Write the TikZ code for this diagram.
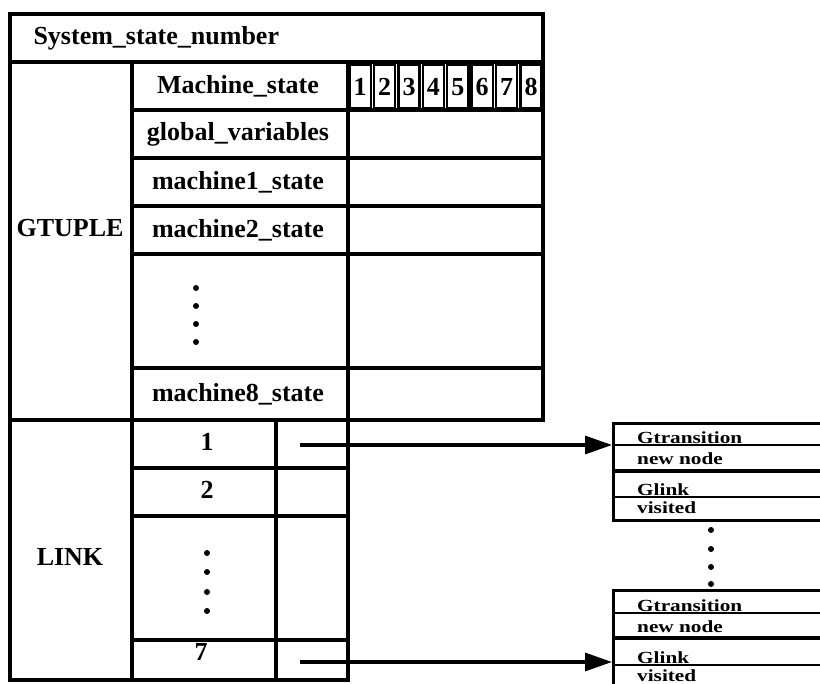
\documentclass[tikz,border=0pt]{standalone}
\usepackage{fontspec}
\setmainfont{Liberation Serif}
\newfontfamily\recfont[FakeStretch=1.25]{Liberation Serif}
\usetikzlibrary{arrows.meta,positioning}
\tikzset{
  cellline/.style={line width=3.4pt},
  bigtxt/.style={font=\bfseries\fontsize{26}{26}\selectfont},
  smalltxt/.style={font=\recfont\bfseries\fontsize{17}{17}\selectfont, inner sep=0pt, anchor=base west},
  ptr/.style={line width=3.2pt, -{Triangle[length=27pt,width=18pt]}},
  blob/.style={circle, fill, inner sep=0pt, minimum size=6pt}
}

\begin{document}
\begin{tikzpicture}[x=1pt, y=-1pt]
  \clip (0,0) rectangle (820,684);
  % header row
  \draw[cellline] (10,14) rectangle (543,62);
  \node[bigtxt, anchor=west] (ssn) at (30,38) {System\_state\_number};
  % GTUPLE part
  \draw[cellline] (10,62) rectangle (132,420);
  \node[bigtxt] (gtuple) at (70,228) {GTUPLE};
  \foreach \t/\b/\n/\l in {62/110/mstate/{Machine\_state}, 110/158/gvars/{global\_variables}, 158/206/mone/{machine1\_state}, 206/254/mtwo/{machine2\_state}, 254/368/mdots/{}, 368/420/meight/{machine8\_state}}{
    \draw[cellline] (132,\t) rectangle (348,\b);
    \draw[cellline] (348,\t) rectangle (543,\b);
    \node[bigtxt] (\n) at (238,{(\t+\b)/2}) {\l};
  }
  \foreach \d in {1,...,8}{
    \draw[line width=2.4pt, fill=white] ({348+(\d-1)*24.4+1.6},65) rectangle ++(21.2,43);
    \node[bigtxt] (digit\d) at ({348+(\d-0.5)*24.4},87) {\d};
  }
  \foreach \i/\y in {1/288, 2/306, 3/324, 4/342}
    \node[blob] (gdot\i) at (196,\y) {};
  % LINK part
  \draw[cellline] (10,420) rectangle (132,680);
  \node[bigtxt] (link) at (70,557) {LINK};
  \foreach \t/\b/\n/\l in {420/468/lone/1, 468/516/ltwo/2, 516/640/ldots/{}, 640/680/lseven/{}}{
    \draw[cellline] (132,\t) rectangle (276,\b);
    \draw[cellline] (276,\t) rectangle (348,\b);
    \node[bigtxt] (\n) at (207,{(\t+\b)/2-2}) {\l};
  }
  \node[bigtxt] (lsevenlbl) at (201,652) {7};
  \foreach \i/\y in {1/553, 2/572, 3/592, 4/611}
    \node[blob] (ldot\i) at (207,\y) {};
  % records
  \foreach \r/\top in {1/422, 2/589}{
    \node[draw, line width=3.4pt, minimum width=230pt, minimum height=97pt, anchor=north west, inner sep=0pt] (rec\r) at (612,\top) {};
    \draw[line width=2pt] (612,\top+23.5) -- ++(230,0);
    \draw[cellline] (612,\top+49) -- ++(230,0);
    \draw[line width=2pt] (612,\top+75.5) -- ++(230,0);
    \node[smalltxt] (gtr\r) at (637,\top+22) {Gtransition};
    \node[smalltxt] (nn\r) at (637,\top+43) {new node};
    \node[smalltxt] (gl\r) at (637,\top+74) {Glink};
    \node[smalltxt] (vis\r) at (637,\top+92) {visited};
  }
  \foreach \i/\y in {1/530, 2/549, 3/567, 4/584}
    \node[blob] (rdot\i) at (711,\y) {};
  % pointers
  \coordinate (ptrone) at (300,445);
  \coordinate (ptrseven) at (300,662);
  \draw[ptr] (ptrone) -- (ptrone -| rec1.west);
  \draw[ptr] (ptrseven) -- (ptrseven -| rec2.west);
\end{tikzpicture}
\end{document}
